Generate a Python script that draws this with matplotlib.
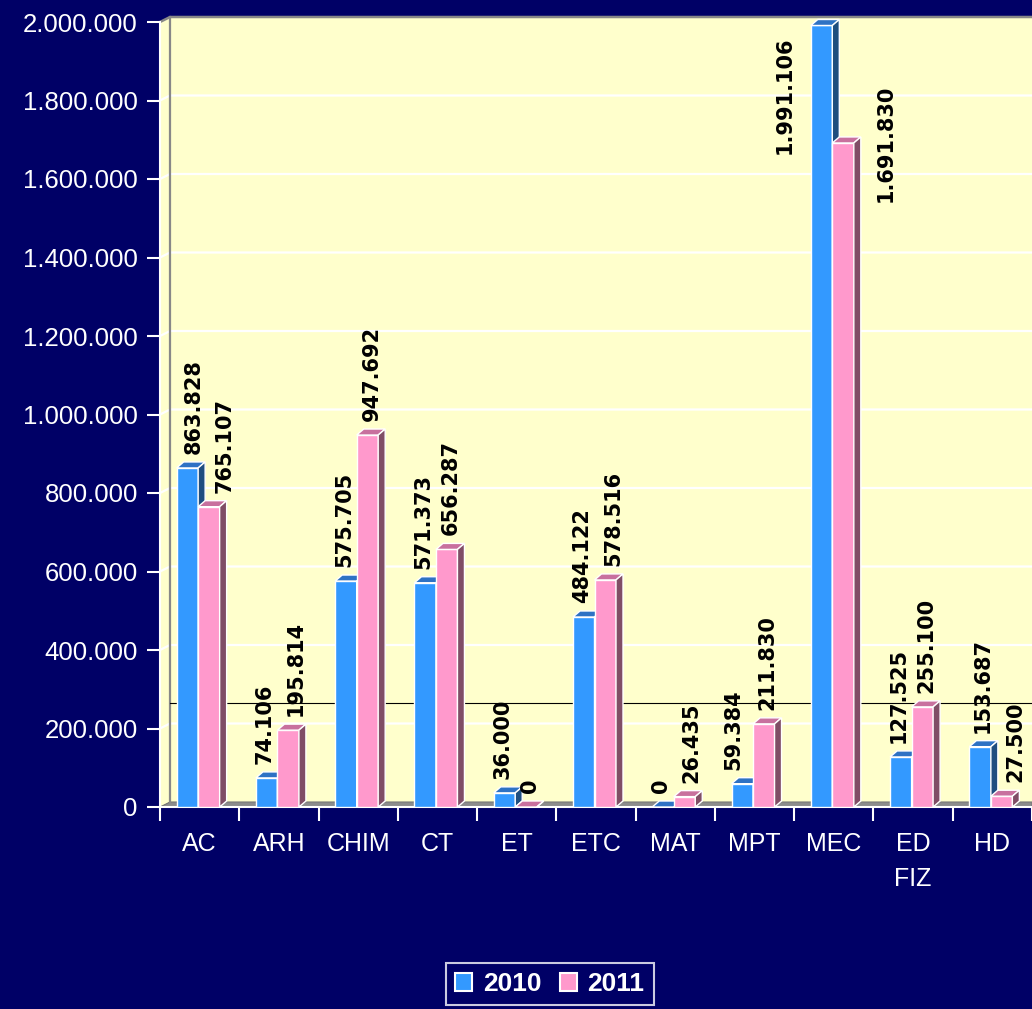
#!/usr/bin/env python3
"""
3D-look grouped bars, 2010 vs 2011 per department, Excel style.
Saves out.png
"""
import matplotlib
matplotlib.use("Agg")
import matplotlib.pyplot as plt
from matplotlib.patches import Polygon, Patch
from matplotlib.ticker import FixedLocator, FuncFormatter, NullFormatter

# data
CATEGORIES = ["AC", "ARH", "CHIM", "CT", "ET", "ETC", "MAT", "MPT", "MEC", "ED\nFIZ", "HD"]
VALUES_2010 = [863828, 74106, 575705, 571373, 36000, 484122, 0, 59384, 1991106, 127525, 153687]
VALUES_2011 = [765107, 195814, 947692, 656287, 0, 578516, 26435, 211830, 1691830, 255100, 27500]
SERIES = ["2010", "2011"]
Y_TICKS = list(range(0, 2000001, 200000))
REF_LINE = 265000

# colours
BG = "#000066"
WALL = "#FFFFCC"
FLOOR = "#8c8c8c"
BLUE = ("#3399FF", "#2E72C4", "#1F4E80")   # front, top, side
PINK = ("#FF99CC", "#C8709E", "#804D66")

# figure geometry (px)
W, H = 1032, 1009
AX_L, AX_R, AX_B, AX_T = 160, 1032, 807, 22
XMIN, XMAX = -0.5, len(CATEGORIES) - 0.5
YMAX = 2000000
XU = (XMAX - XMIN) / (AX_R - AX_L)    # data units per px
YU = YMAX / (AX_B - AX_T)

DXW, DYW = 10 * XU, 5 * YU            # wall depth
DX, DY = 7 * XU, 6 * YU               # bar depth
BAR_W = 21.5 * XU
BAR_OFF = -23 * XU                    # left edge of blue bar from category centre

TICK_FONT = ["Liberation Sans", "DejaVu Sans"]


def fmt(v):
    return f"{int(v):,}".replace(",", ".")


def draw_faces(ax, xs, hs, top, side, z):
    for x, h in zip(xs, hs):
        ax.add_patch(Polygon([(x, h), (x + DX, h + DY), (x + BAR_W + DX, h + DY), (x + BAR_W, h)],
                             closed=True, fc=top, ec="white", lw=1.0, zorder=z, clip_on=False))
        ax.add_patch(Polygon([(x + BAR_W, 0), (x + BAR_W + DX, DY), (x + BAR_W + DX, h + DY), (x + BAR_W, h)],
                             closed=True, fc=side, ec="white", lw=1.0, zorder=z, clip_on=False))


fig = plt.figure(figsize=(W / 100, H / 100), dpi=100, facecolor=BG)
ax = fig.add_axes([AX_L / W, (H - AX_B) / H, (AX_R - AX_L) / W, (AX_B - AX_T) / H])
ax.set_facecolor(BG)
ax.set_xlim(XMIN, XMAX)
ax.set_ylim(0, YMAX)

x0 = XMIN
# back wall, side wall, floor
ax.add_patch(Polygon([(x0 + DXW, DYW), (x0 + DXW, YMAX + DYW), (XMAX, YMAX + DYW), (XMAX, DYW)],
                     closed=True, fc=WALL, ec="none", zorder=0.5, clip_on=False))
ax.add_patch(Polygon([(x0, 0), (x0 + DXW, DYW), (x0 + DXW, YMAX + DYW), (x0, YMAX)],
                     closed=True, fc=WALL, ec="none", zorder=0.5, clip_on=False))
ax.add_patch(Polygon([(x0, 0), (x0 + DXW, DYW), (XMAX, DYW), (XMAX, 0)],
                     closed=True, fc=FLOOR, ec="#777777", lw=0.8, zorder=0.8, clip_on=False))

# gridlines (bent onto the side wall)
for v in Y_TICKS[1:-1]:
    ax.plot([x0, x0 + DXW, XMAX], [v, v + DYW, v + DYW], color="white", lw=1.6,
            zorder=1, clip_on=False, solid_capstyle="butt")
# wall border
ax.plot([x0, x0 + DXW, XMAX], [YMAX, YMAX + DYW, YMAX + DYW], color="#888888", lw=1.8,
        zorder=1, clip_on=False)
ax.plot([x0 + DXW, x0 + DXW], [DYW, YMAX + DYW], color="#888888", lw=1.6, zorder=1, clip_on=False)

# thin black reference line behind the bars
ax.plot([x0 + DXW, XMAX], [REF_LINE, REF_LINE], color="black", lw=0.8, zorder=1.2, clip_on=False)

idx = list(range(len(CATEGORIES)))
xb = [i + BAR_OFF for i in idx]
xp = [x + BAR_W for x in xb]

ax.bar(xb, VALUES_2010, width=BAR_W, align="edge", color=BLUE[0], edgecolor="white",
       linewidth=1.0, zorder=3)
draw_faces(ax, xb, VALUES_2010, BLUE[1], BLUE[2], 3)
ax.bar(xp, VALUES_2011, width=BAR_W, align="edge", color=PINK[0], edgecolor="white",
       linewidth=1.0, zorder=4)
draw_faces(ax, xp, VALUES_2011, PINK[1], PINK[2], 4)

# data labels
GAP = 14 * YU
LABEL_DX = {0: -2, 1: 4}    # px, from bar centre
# small horizontal nudges (px) where Excel moved a label sideways
NUDGE = {("AC", 0): 8, ("MPT", 0): -7, ("HD", 0): 5,
         ("AC", 1): 12, ("ARH", 1): 4, ("MAT", 1): 3, ("ETC", 1): 4, ("HD", 1): 10}
# labels that do not fit above the bar sit beside it
SPECIAL = {("MEC", 0): (-37, (AX_B - 37) * YU, "top"),
           ("MEC", 1): (43, None, "center")}
for s, (xs, vals) in enumerate([(xb, VALUES_2010), (xp, VALUES_2011)]):
    for cat, x, v in zip(CATEGORIES, xs, vals):
        xc = x + BAR_W / 2
        if (cat, s) in SPECIAL:
            dx, y, va = SPECIAL[(cat, s)]
            y = v if y is None else y
        else:
            dx, y, va = LABEL_DX[s] + NUDGE.get((cat, s), 0), v + GAP, "bottom"
        ax.text(xc + dx * XU, y, fmt(v), rotation=90, ha="center", va=va, fontsize=15,
                fontweight="bold", family="DejaVu Sans", color="black", zorder=6)

# axes / ticks
for side in ("top", "right"):
    ax.spines[side].set_visible(False)
for side in ("left", "bottom"):
    ax.spines[side].set_color("white")
    ax.spines[side].set_linewidth(1.5)
    ax.spines[side].set_zorder(2)

ax.yaxis.set_major_locator(FixedLocator(Y_TICKS))
ax.yaxis.set_major_formatter(FuncFormatter(lambda v, p: fmt(v)))
ax.tick_params(axis="y", colors="white", length=9.5, width=1.5, pad=6.5, labelsize=18.5)
for lab in ax.get_yticklabels():
    lab.set_family(TICK_FONT)

ax.xaxis.set_major_locator(FixedLocator([i - 0.5 for i in range(len(CATEGORIES) + 1)]))
ax.xaxis.set_major_formatter(NullFormatter())
ax.xaxis.set_minor_locator(FixedLocator(idx))
ax.set_xticklabels(CATEGORIES, minor=True)
ax.tick_params(axis="x", which="major", colors="white", length=10, width=1.5)
ax.tick_params(axis="x", which="minor", colors="white", length=0, pad=18, labelsize=18)
for lab in ax.get_xticklabels(minor=True):
    lab.set_family(TICK_FONT)
    lab.set_linespacing(1.6)

# legend
handles = [Patch(fc=BLUE[0], ec="white", lw=1.5, label=SERIES[0]),
           Patch(fc=PINK[0], ec="white", lw=1.5, label=SERIES[1])]
leg = fig.legend(handles=handles, loc="upper left", bbox_to_anchor=(446 / W, 1 - 963 / H),
                 ncol=2, frameon=True, fancybox=False, borderaxespad=0, borderpad=0.35,
                 handlelength=0.65, handleheight=0.65, handletextpad=0.4, columnspacing=0.7,
                 prop={"family": TICK_FONT, "weight": "bold", "size": 19})
leg.get_frame().set_facecolor(BG)
leg.get_frame().set_edgecolor("white")
leg.get_frame().set_linewidth(1.5)
for t in leg.get_texts():
    t.set_color("white")

fig.savefig("out.png", dpi=100, facecolor=BG)
